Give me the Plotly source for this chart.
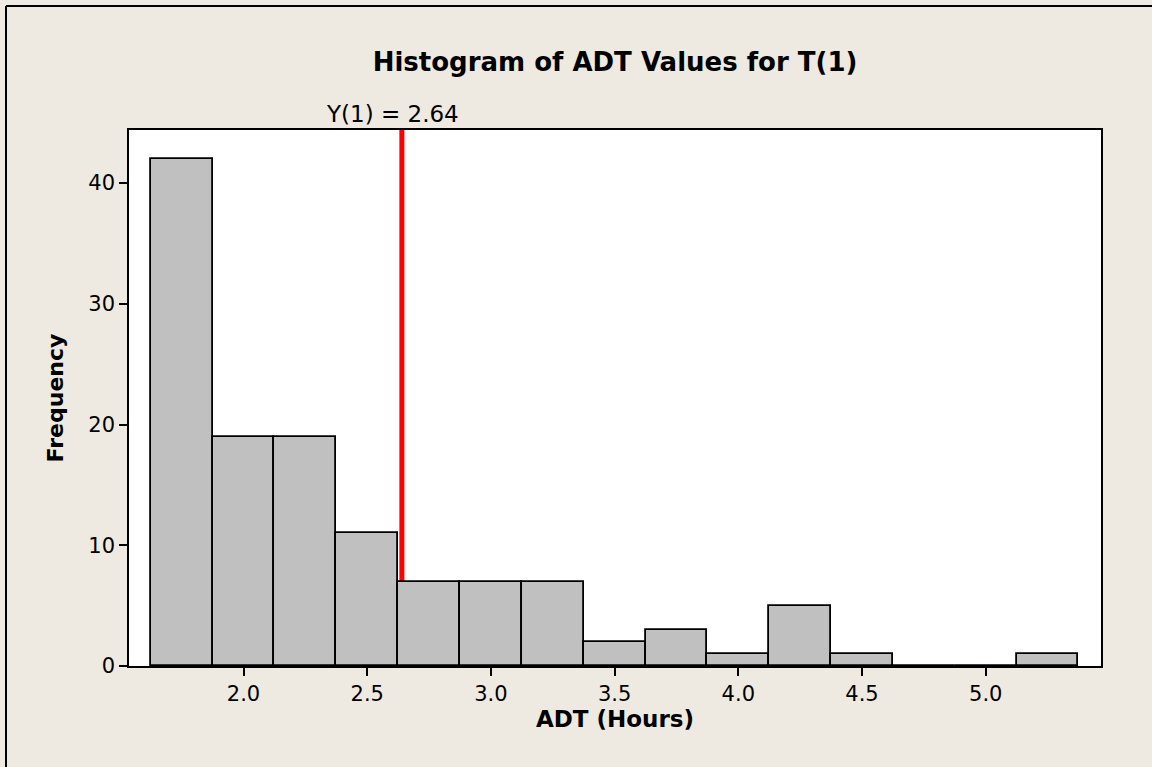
import plotly.graph_objects as go

# Data
bin_centers = [1.75, 2.0, 2.25, 2.5, 2.75, 3.0, 3.25, 3.5, 3.75, 4.0, 4.25, 4.5, 4.75, 5.0, 5.25]
frequencies = [42, 19, 19, 11, 7, 7, 7, 2, 3, 1, 5, 1, 0, 0, 1]
bin_width = 0.25
y1_value = 2.64
x_ticks = [2.0, 2.5, 3.0, 3.5, 4.0, 4.5, 5.0]
y_ticks = [0, 10, 20, 30, 40]

BG = "#EEEAE1"
FONT = "DejaVu Sans"

W, H = 1152, 767
L, R, T, B = 129, 51, 130, 101
pw = W - L - R
ph = H - T - B

def px_to_paper_x(px):
    return (px - L) / pw

def px_to_paper_y(py):
    return (H - B - py) / ph

fig = go.Figure()
fig.add_trace(go.Bar(
    x=bin_centers, y=frequencies, width=bin_width,
    marker=dict(color="#C0C0C0", line=dict(color="black", width=1.8)),
    showlegend=False, hoverinfo="x+y",
))

fig.add_shape(type="line", xref="x", yref="paper", x0=y1_value, x1=y1_value,
              y0=0, y1=1, line=dict(color="#FF0000", width=5), layer="below")

# outer border (top and left visible)
fig.add_shape(type="line", xref="paper", yref="paper",
              x0=px_to_paper_x(6), x1=px_to_paper_x(1200),
              y0=px_to_paper_y(6), y1=px_to_paper_y(6),
              line=dict(color="black", width=2))
fig.add_shape(type="line", xref="paper", yref="paper",
              x0=px_to_paper_x(6), x1=px_to_paper_x(6),
              y0=px_to_paper_y(6), y1=px_to_paper_y(800),
              line=dict(color="black", width=2))

fig.add_annotation(x=y1_value, xref="x", y=1, yref="paper", yanchor="bottom",
                   text=f"Y(1) = {y1_value:.2f}", showarrow=False, xshift=-9, yshift=1,
                   font=dict(family=FONT, size=23, color="black"))

fig.update_layout(
    width=W, height=H,
    margin=dict(l=L, r=R, t=T, b=B),
    paper_bgcolor=BG, plot_bgcolor="white",
    bargap=0,
    title=dict(text="<b>Histogram of ADT Values for T(1)</b>", x=0.5, xanchor="center",
               xref="paper", y=1 - 62 / H, yanchor="middle",
               font=dict(family=FONT, size=26, color="black")),
    xaxis=dict(range=[1.537, 5.466], tickvals=x_ticks, ticktext=[f"{v:.1f}" for v in x_ticks],
               ticks="outside", ticklen=8, tickwidth=1.5, tickcolor="black",
               showline=True, mirror=True, linecolor="black", linewidth=1.5,
               showgrid=False, zeroline=False,
               tickfont=dict(family=FONT, size=21, color="black"),
               title=dict(text="<b>ADT (Hours)</b>", standoff=4,
                          font=dict(family=FONT, size=23, color="black"))),
    yaxis=dict(range=[0, 44.4], tickvals=y_ticks,
               ticks="outside", ticklen=8, tickwidth=1.5, tickcolor="black",
               showline=True, mirror=True, linecolor="black", linewidth=1.5,
               showgrid=False, zeroline=False,
               tickfont=dict(family=FONT, size=21, color="black"),
               title=dict(text="<b>Frequency</b>", standoff=19,
                          font=dict(family=FONT, size=22, color="black"))),
)

fig.write_html("out.html", config={"displayModeBar": False},
               post_script="document.body.style.margin='0';document.body.style.overflow='hidden';")
